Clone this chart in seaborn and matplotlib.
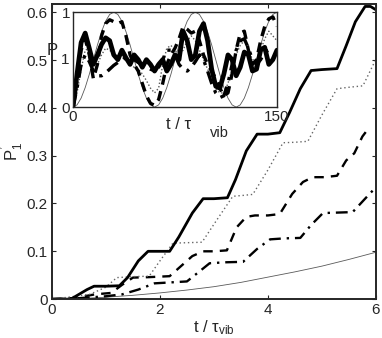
import matplotlib

matplotlib.use("Agg")
import matplotlib.pyplot as plt  # noqa: E402
import seaborn as sns  # noqa: E402

# main panel: transition probability vs t / tau_vib
t_solid = [0, 0.35, 0.5, 0.65, 0.78, 1.0, 1.25, 1.4, 1.6, 1.78, 2.0, 2.18, 2.35, 2.6,
           2.8, 3.0, 3.25, 3.4, 3.6, 3.8, 4.0, 4.22, 4.4, 4.6, 4.8, 5.0, 5.28, 5.45,
           5.62, 5.8, 5.9, 6.0]
p_solid = [0, 0, 0.01, 0.02, 0.027, 0.027, 0.028, 0.045, 0.08, 0.1, 0.1, 0.1, 0.13,
           0.18, 0.21, 0.21, 0.212, 0.25, 0.31, 0.345, 0.345, 0.348, 0.39, 0.44,
           0.478, 0.48, 0.482, 0.53, 0.58, 0.612, 0.612, 0.605]

t_dot = [0, 0.3, 0.7, 1.0, 1.2, 1.5, 1.8, 2.0, 2.24, 2.5, 2.78, 3.05, 3.35, 3.55, 3.72,
         4.0, 4.28, 4.5, 4.74, 5.0, 5.28, 5.5, 5.76, 5.95, 6.0]
p_dot = [0, 0.004, 0.01, 0.025, 0.045, 0.047, 0.048, 0.08, 0.117, 0.118, 0.119, 0.165,
         0.215, 0.217, 0.219, 0.27, 0.327, 0.328, 0.33, 0.385, 0.44, 0.443, 0.446,
         0.49, 0.5]

t_dash = [0, 0.4, 0.8, 1.1, 1.3, 1.5, 1.8, 2.18, 2.4, 2.6, 2.8, 3.0, 3.24, 3.42, 3.6,
          3.76, 4.0, 4.22, 4.45, 4.65, 4.83, 5.05, 5.28, 5.45, 5.6, 5.75, 5.85]
p_dash = [0, 0.002, 0.01, 0.013, 0.03, 0.045, 0.046, 0.048, 0.07, 0.09, 0.1, 0.1,
          0.102, 0.15, 0.172, 0.175, 0.175, 0.178, 0.22, 0.245, 0.255, 0.255, 0.258,
          0.29, 0.305, 0.34, 0.355]

t_dashdot = [0, 0.5, 1.0, 1.3, 1.6, 1.9, 2.2, 2.5, 2.7, 2.92, 3.2, 3.54, 3.8, 4.04,
             4.3, 4.6, 4.8, 5.02, 5.3, 5.57, 5.8, 5.95]
p_dashdot = [0, 0.002, 0.006, 0.01, 0.02, 0.033, 0.035, 0.037, 0.055, 0.075, 0.077,
             0.078, 0.105, 0.125, 0.127, 0.128, 0.155, 0.18, 0.181, 0.182, 0.21, 0.228]

t_thin = [0, 0.5, 1, 1.5, 2, 2.5, 3, 3.5, 4, 4.5, 5, 5.5, 6]
p_thin = [0, 0.001, 0.004, 0.008, 0.013, 0.019, 0.026, 0.035, 0.046, 0.057, 0.069,
          0.083, 0.098]

# inset: long-time behaviour, t / tau_vib from 0 to 150
t_in = [0, 3, 6, 9, 12, 15, 18, 21, 24, 27, 30, 33, 36, 39, 42, 45, 48, 51, 54, 57,
        60, 63, 66, 69, 72, 75, 78, 81, 84, 87, 90, 93, 96, 99, 102, 105, 108, 111,
        114, 117, 120, 123, 126, 129, 132, 135, 138, 141, 144, 147, 150]
in_thin = [0, 0.024, 0.095, 0.206, 0.345, 0.5, 0.655, 0.794, 0.905, 0.976, 1, 0.976,
           0.905, 0.794, 0.655, 0.5, 0.345, 0.206, 0.095, 0.024, 0, 0.024, 0.095,
           0.206, 0.345, 0.5, 0.655, 0.794, 0.905, 0.976, 1, 0.976, 0.905, 0.794,
           0.655, 0.5, 0.345, 0.206, 0.095, 0.024, 0, 0.024, 0.095, 0.206, 0.345,
           0.5, 0.655, 0.794, 0.905, 0.976, 1]
in_solid = [0, 0.35, 0.68, 0.78, 0.62, 0.45, 0.55, 0.66, 0.73, 0.7, 0.55, 0.5, 0.6,
            0.52, 0.45, 0.55, 0.5, 0.42, 0.5, 0.45, 0.38, 0.45, 0.5, 0.38, 0.45, 0.55,
            0.5, 0.8, 0.7, 0.5, 0.55, 0.8, 0.88, 0.7, 0.4, 0.22, 0.2, 0.35, 0.55, 0.5,
            0.33, 0.42, 0.58, 0.55, 0.38, 0.4, 0.6, 0.63, 0.45, 0.5, 0.6]
in_dash = [0, 0.3, 0.6, 0.72, 0.55, 0.3, 0.45, 0.75, 0.88, 0.92, 0.9, 0.88, 0.9, 0.75,
           0.55, 0.45, 0.38, 0.25, 0.12, 0.04, 0.02, 0.08, 0.25, 0.45, 0.55, 0.62,
           0.72, 0.85, 0.82, 0.78, 0.8, 0.7, 0.55, 0.45, 0.38, 0.3, 0.2, 0.12, 0.15,
           0.35, 0.6, 0.78, 0.8, 0.6, 0.45, 0.5, 0.7, 0.85, 0.93, 0.95, 0.85]
in_dashdot = [0, 0.2, 0.45, 0.55, 0.48, 0.38, 0.33, 0.33, 0.36, 0.4, 0.44, 0.47, 0.5,
              0.52, 0.52, 0.5, 0.47, 0.45, 0.43, 0.4, 0.38, 0.42, 0.5, 0.6, 0.6, 0.55,
              0.45, 0.4, 0.38, 0.42, 0.48, 0.55, 0.5, 0.38, 0.25, 0.15, 0.1, 0.12,
              0.25, 0.45, 0.6, 0.7, 0.72, 0.62, 0.5, 0.45, 0.5, 0.58, 0.6, 0.58, 0.55]
in_dot = [0, 0.15, 0.4, 0.6, 0.62, 0.5, 0.45, 0.55, 0.62, 0.6, 0.55, 0.5, 0.52, 0.5,
          0.45, 0.42, 0.4, 0.35, 0.28, 0.2, 0.15, 0.2, 0.45, 0.62, 0.65, 0.6, 0.55,
          0.6, 0.7, 0.75, 0.7, 0.6, 0.5, 0.4, 0.3, 0.2, 0.15, 0.15, 0.25, 0.4, 0.55,
          0.65, 0.7, 0.6, 0.5, 0.5, 0.6, 0.72, 0.8, 0.75, 0.7]

sns.set_style("ticks")
plt.rcParams["font.family"] = ["Liberation Sans", "DejaVu Sans"]
plt.rcParams["mathtext.fontset"] = "custom"
plt.rcParams["mathtext.rm"] = "Liberation Sans"
plt.rcParams["mathtext.it"] = "Liberation Sans"
plt.rcParams["xtick.direction"] = "in"
plt.rcParams["ytick.direction"] = "in"

fig = plt.figure(figsize=(3.82, 3.38), dpi=100)
ax = fig.add_axes([0.136, 0.115, 0.848, 0.873])

sns.lineplot(x=t_thin, y=p_thin, ax=ax, color="0.35", lw=0.6)
sns.lineplot(x=t_dashdot, y=p_dashdot, ax=ax, color="black", lw=1.7, linestyle=(0, (5, 2.5, 1, 2.5)))
sns.lineplot(x=t_dash, y=p_dash, ax=ax, color="black", lw=1.7, linestyle=(0, (4, 3)))
sns.lineplot(x=t_dot, y=p_dot, ax=ax, color="0.4", lw=1.0, linestyle=(0, (1, 2)))
sns.lineplot(x=t_solid, y=p_solid, ax=ax, color="black", lw=2.0)

ax.set_xlim(0, 6)
ax.set_ylim(0, 0.617)
ax.set_xticks([0, 2, 4, 6])
ax.set_yticks([0, 0.1, 0.2, 0.3, 0.4, 0.5, 0.6])
ax.set_yticklabels(["0", "0.1", "0.2", "0.3", "0.4", "0.5", "0.6"])
ax.tick_params(labelsize=11, top=True, right=True, length=3, width=0.8, pad=3)
for s in ax.spines.values():
    s.set_linewidth(1.4)
ax.set_xlabel(r"t / $\mathrm{\tau_{vib}}$", fontsize=12, labelpad=1)
ax.set_ylabel(r"P$_1^{\,'}$", fontsize=12, labelpad=1)

# inset
ai = fig.add_axes([0.191, 0.683, 0.534, 0.281])
sns.lineplot(x=t_in, y=in_thin, ax=ai, color="0.35", lw=0.6)
sns.lineplot(x=t_in, y=in_dot, ax=ai, color="0.35", lw=1.0, linestyle=(0, (1, 1.5)))
sns.lineplot(x=t_in, y=in_dashdot, ax=ai, color="black", lw=2.4, linestyle=(0, (4, 2, 1, 2)))
sns.lineplot(x=t_in, y=in_dash, ax=ai, color="black", lw=2.4, linestyle=(0, (3, 2)))
sns.lineplot(x=t_in, y=in_solid, ax=ai, color="black", lw=3.4)
ai.set_xlim(0, 150)
ai.set_ylim(0, 1)
ai.set_xticks([0, 150])
ai.set_yticks([0, 1])
ai.tick_params(labelsize=11, top=True, right=True, length=2, width=0.6, pad=2)
for s in ai.spines.values():
    s.set_linewidth(1.0)
ai.set_xlabel("")
ai.text(0.52, -0.1, "t / τ", transform=ai.transAxes, ha="center", va="top", fontsize=12)
ai.text(0.72, -0.2, "vib", transform=ai.transAxes, ha="center", va="top", fontsize=10.5)
ai.text(-0.1, 0.6, "P", transform=ai.transAxes, ha="center", va="center", fontsize=12)
ai.text(-0.04, 0.5, "1", transform=ai.transAxes, ha="center", va="center", fontsize=11)

fig.savefig("out.png", dpi=100)
